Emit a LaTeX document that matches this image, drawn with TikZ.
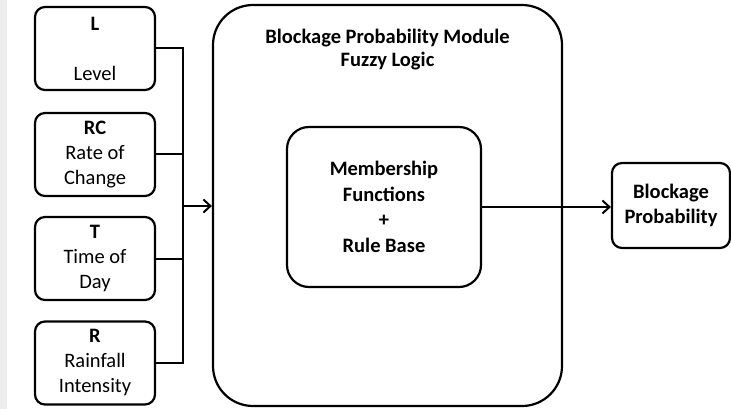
\documentclass[tikz,border=0pt]{standalone}
\usepackage{fontspec}
\setmainfont{Carlito}
\usepackage{tikz}
\usetikzlibrary{arrows.meta, positioning}

\tikzset{
    inbox/.style={draw, line width=2.2pt, rounded corners=10pt,
        minimum width=120pt, minimum height=83pt, inner sep=0pt,
        align=center, font=\fontsize{20.5}{25}\selectfont},
    wire/.style={line width=2pt},
    flow/.style={line width=2pt, -{Straight Barb[length=7pt, width=13pt]}}
}

\begin{document}
\begin{tikzpicture}[x=1pt, y=-1pt]

    % =================================================================
    % 1. KHUNG HÌNH VÀ DẢI XÁM BÊN TRÁI
    % =================================================================
    \useasboundingbox (0,0) rectangle (731,409);
    \fill[gray!13] (0,0) rectangle (7,409);

    % =================================================================
    % 2. CÁC ĐẠI LƯỢNG ĐẦU VÀO
    % =================================================================
    \node[inbox] (L)  at (95,48.5) {\textbf{L}\\ \\Level};
    \node[inbox] (RC) at (95,154.5) {\textbf{RC}\\Rate of\\Change};
    \node[inbox] (T)  at (95,258.5) {\textbf{T}\\Time of\\Day};
    \node[inbox] (R)  at (95,363) {\textbf{R}\\Rainfall\\Intensity};

    % =================================================================
    % 3. MÔ-ĐUN LOGIC MỜ
    % =================================================================
    \node[draw, line width=2.2pt, rounded corners=40pt, minimum width=349pt,
        minimum height=401pt, inner sep=0pt] (module) at (387.5,205.5) {};
    \node[font=\bfseries\fontsize{20.5}{23}\selectfont, align=center,
        below=22pt of module.north] (title)
        {Blockage Probability Module\\Fuzzy Logic};

    \node[draw, line width=2.2pt, rounded corners=22pt, minimum width=194pt,
        minimum height=160pt, inner sep=0pt, align=center,
        font=\bfseries\fontsize{20.5}{25.5}\selectfont] (rules) at (384,207)
        {Membership\\Functions\\+\\Rule Base};

    % Đầu ra
    \node[draw, line width=2.2pt, rounded corners=10pt, minimum width=118pt,
        minimum height=85pt, inner sep=0pt, align=center,
        font=\bfseries\fontsize{20.5}{25}\selectfont] (prob) at (671,205.5)
        {Blockage\\Probability};

    % =================================================================
    % 4. ĐƯỜNG NỐI VÀ MŨI TÊN
    % =================================================================
    \coordinate (join) at (183,206);
    \draw[wire] (L.east) -| (join);
    \draw[wire] (RC.east) -| (join);
    \draw[wire] (T.east) -| (join);
    \draw[wire] (R.east) -| (join);
    \draw[flow] (join) -- (join -| module.west);

    \draw[flow] (rules.east) -- (rules.east -| prob.west);

\end{tikzpicture}
\end{document}
